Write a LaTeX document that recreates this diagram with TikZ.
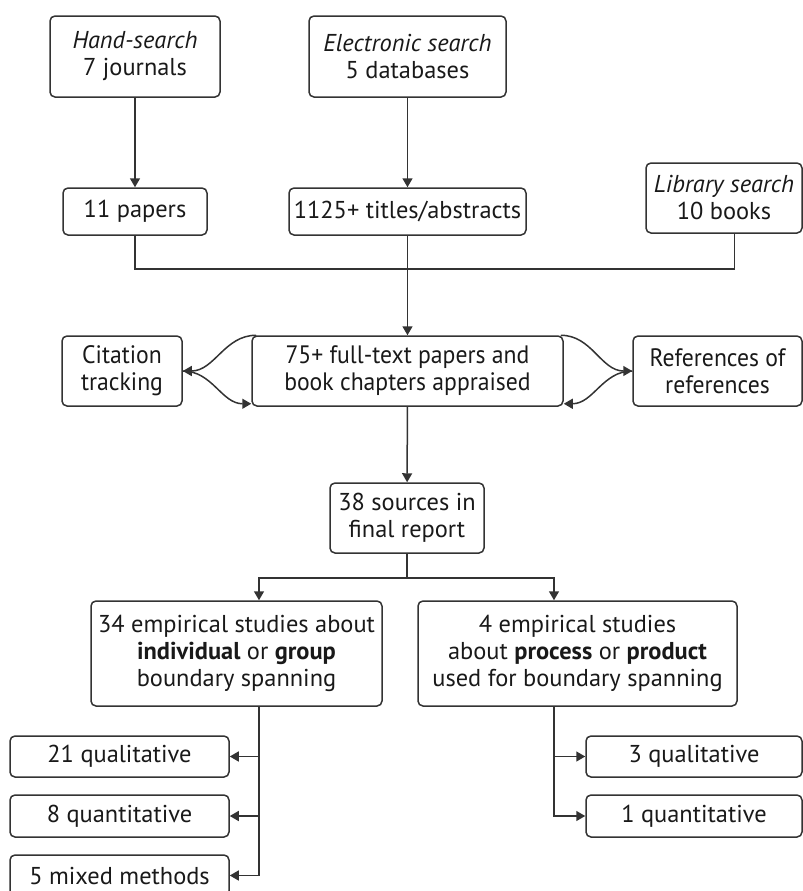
\documentclass[tikz,border=0pt]{standalone}
\usepackage{fontspec}
\setmainfont{PT Sans}
\newfontfamily\condfont[FakeStretch=0.94]{PT Sans}
\usetikzlibrary{arrows.meta}

\begin{document}
\begin{tikzpicture}[x=0.5pt,y=-0.5pt,
  box/.style={draw=black!80,rounded corners=2.5pt,line width=0.75pt,align=center,
    inner sep=0pt,text=black!90,font=\fontsize{12.2}{13.5}\selectfont},
  narrow/.style={box,font=\condfont\fontsize{12.6}{13.5}\selectfont},
  link/.style={draw=black!80,line width=0.75pt},
  arr/.style={link,-{Triangle[length=4.5pt,width=5pt]}}]
    \useasboundingbox (0,0) rectangle (803,891);
    % Searches
    \node[box,minimum width=85pt,minimum height=40.5pt] (hand) at (135,56.5)
      {\textit{Hand-search}\\7 journals};
    \node[box,minimum width=98.5pt,minimum height=40.5pt] (elec) at (407.5,56.5)
      {\textit{Electronic search}\\5 databases};
    \node[box,minimum width=72pt,minimum height=23.5pt] (papers) at (135,211.5)
      {11 papers};
    \node[box,minimum width=118.5pt,minimum height=23.5pt] (titles) at (407.5,211.5)
      {1125+ titles/abstracts};
    \node[box,minimum width=78pt,minimum height=35pt] (lib) at (724,198)
      {\textit{Library search}\\10 books};
    % Appraisal and tracking
    \node[narrow,minimum width=60pt,minimum height=35pt] (cit) at (122,371)
      {Citation\\tracking};
    \node[narrow,minimum width=155.5pt,minimum height=35pt] (full) at (407.5,371)
      {75+ full-text papers and\\book chapters appraised};
    \node[narrow,minimum width=84.5pt,minimum height=35pt] (refs) at (717.5,371)
      {References of\\references};
    \node[box,minimum width=77pt,minimum height=35pt] (sources) at (407,518)
      {38 sources in\\final report};
    % Studies
    \node[box,minimum width=145.5pt,minimum height=52.5pt] (indiv) at (236.5,653.5)
      {34 empirical studies about\\\textbf{individual} or \textbf{group}\\boundary spanning};
    \node[box,minimum width=159.5pt,minimum height=52.5pt] (proc) at (577.5,653.5)
      {4 empirical studies\\about \textbf{process} or \textbf{product}\\used for boundary spanning};
    \node[box,minimum width=109.5pt,minimum height=20.5pt] (qualA) at (119.5,756.5)
      {21 qualitative};
    \node[box,minimum width=109.5pt,minimum height=21pt] (quantA) at (119.5,816)
      {8 quantitative};
    \node[box,minimum width=109.5pt,minimum height=20.5pt] (mixA) at (119.5,875.5)
      {5 mixed methods};
    \node[box,minimum width=108pt,minimum height=20.5pt] (qualB) at (694,756.5)
      {3 qualitative};
    \node[box,minimum width=108pt,minimum height=21pt] (quantB) at (694,816)
      {1 quantitative};
    % Connectors
    \coordinate (join) at (407,269);
    \coordinate (split) at (407,578);
    \coordinate (libfoot) at ([xshift=5.25pt]lib.south);
    \coordinate (ltop) at ([xshift=11.25pt]indiv.north);
    \coordinate (lfoot) at ([xshift=11.25pt]indiv.south);
    \coordinate (rtop) at ([xshift=-11.75pt]proc.north);
    \coordinate (rfoot) at ([xshift=-11.75pt]proc.south);
    \draw[arr] (hand) -- (papers);
    \draw[arr] (elec) -- (titles);
    \draw[link] (papers.south) |- (libfoot |- join) -- (libfoot);
    \draw[arr] (titles) -- (full);
    \draw[arr] ([xshift=2.5pt]full.north west) to[out=180,in=0] (cit.east);
    \draw[arr] (cit.east) to[out=0,in=180] ([yshift=1.5pt]full.south west);
    \draw[arr] ([xshift=-1.5pt]full.north east) to[out=0,in=180] (refs.west);
    \draw[arr] (refs.west) to[out=180,in=0] ([yshift=1.5pt]full.south east);
    \draw[arr] (full) -- (sources);
    \draw[arr] (sources.south) |- (ltop |- split) -- (ltop);
    \draw[arr] (sources.south) |- (rtop |- split) -- (rtop);
    \draw[arr] (lfoot) |- (qualA.east);
    \draw[arr] (lfoot) |- (quantA.east);
    \draw[arr] (lfoot) |- (mixA.east);
    \draw[arr] (rfoot) |- (qualB.west);
    \draw[arr] (rfoot) |- (quantB.west);
\end{tikzpicture}
\end{document}
